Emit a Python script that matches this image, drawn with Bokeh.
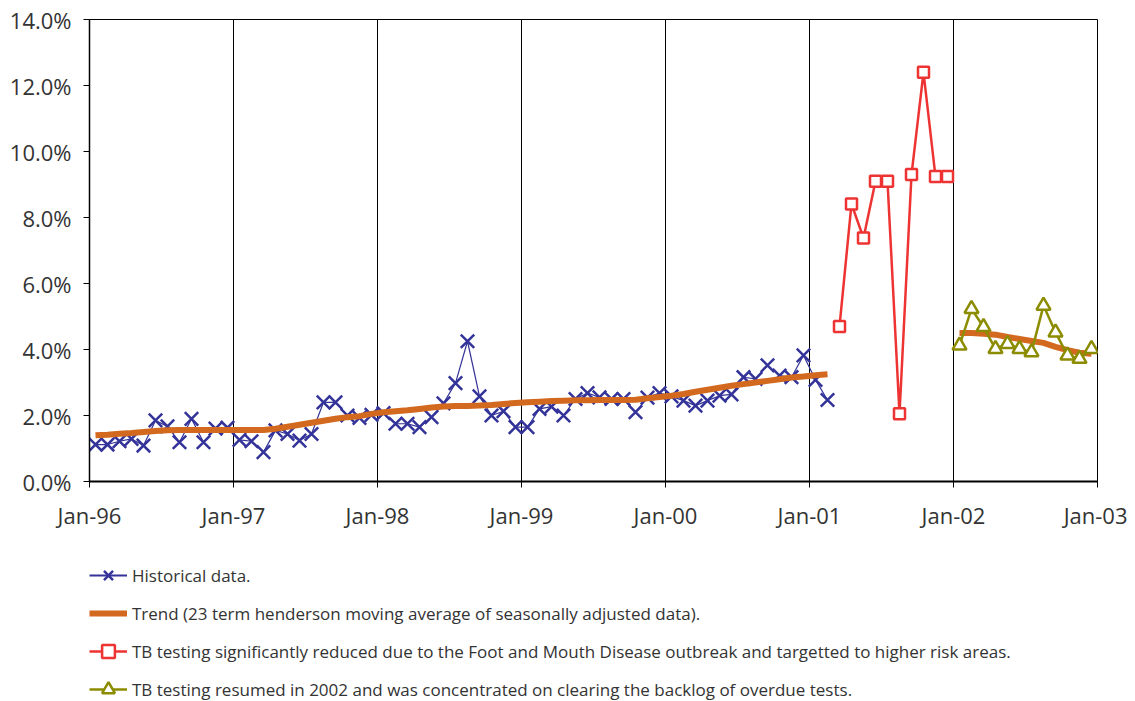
from bokeh.plotting import figure
from bokeh.layouts import column
from bokeh.models import (FixedTicker, PrintfTickFormatter, Legend, LegendItem, Range1d)
from bokeh.embed import file_html
from bokeh.resources import INLINE

# ---- data (month index from Jan-96 = 0; values in %) ----
year_ticks = [0, 12, 24, 36, 48, 60, 72, 84]
year_labels = ["Jan-96", "Jan-97", "Jan-98", "Jan-99", "Jan-00", "Jan-01", "Jan-02", "Jan-03"]

hist_month = list(range(0, 62))
hist_value = [1.12, 1.12, 1.22, 1.29, 1.09, 1.85, 1.67, 1.19, 1.90, 1.19, 1.60, 1.63,
              1.26, 1.22, 0.89, 1.55, 1.44, 1.24, 1.44, 2.40, 2.40, 2.00, 1.93, 2.02,
              2.07, 1.75, 1.75, 1.65, 1.95, 2.37, 2.98, 4.25, 2.58, 2.00, 2.13, 1.65,
              1.65, 2.20, 2.27, 2.00, 2.50, 2.68, 2.55, 2.50, 2.50, 2.10, 2.54, 2.68,
              2.58, 2.45, 2.30, 2.45, 2.60, 2.64, 3.16, 3.11, 3.52, 3.21, 3.16, 3.82,
              3.08, 2.47]

trend1_month = list(range(0, 62))
trend1_value = [1.40, 1.42, 1.45, 1.47, 1.50, 1.53, 1.55, 1.56, 1.56, 1.56, 1.56, 1.56,
                1.56, 1.56, 1.56, 1.60, 1.66, 1.72, 1.78, 1.84, 1.90, 1.95, 1.98, 2.05,
                2.10, 2.13, 2.16, 2.20, 2.24, 2.27, 2.29, 2.29, 2.30, 2.32, 2.35, 2.38,
                2.40, 2.42, 2.44, 2.45, 2.46, 2.46, 2.47, 2.47, 2.47, 2.48, 2.52, 2.56,
                2.60, 2.65, 2.72, 2.78, 2.84, 2.90, 2.95, 3.00, 3.05, 3.10, 3.15, 3.18,
                3.22, 3.25]

fmd_month = list(range(62, 72))
fmd_value = [4.70, 8.41, 7.38, 9.10, 9.10, 2.05, 9.30, 12.40, 9.24, 9.24]

resumed_month = list(range(72, 84))
resumed_value = [4.12, 5.23, 4.68, 4.02, 4.17, 4.02, 3.92, 5.33, 4.52, 3.82, 3.72, 4.02]

trend2_month = list(range(72, 84))
trend2_value = [4.50, 4.50, 4.48, 4.45, 4.38, 4.32, 4.26, 4.20, 4.08, 3.98, 3.90, 3.87]

labels = [
    "Historical data.",
    "Trend (23 term henderson moving average of seasonally adjusted data).",
    "TB testing significantly reduced due to the Foot and Mouth Disease outbreak and targetted to higher risk areas.",
    "TB testing resumed in 2002 and was concentrated on clearing the backlog of overdue tests.",
]

BLUE = "#333399"
ORANGE = "#D2691E"
RED = "#EE3333"
GREEN = "#8C8C00"
TEXT = "#333333"
FONT = "Open Sans"

# plot points sit mid-month
def mid(ms):
    return [m + 0.5 for m in ms]

p = figure(frame_width=1008, frame_height=462, output_backend="svg", toolbar_location=None,
           x_range=Range1d(0, 84), y_range=Range1d(0, 14),
           min_border_left=89, min_border_top=19, min_border_right=30, min_border_bottom=50)

p.outline_line_color = "black"
p.outline_line_width = 1

# axes
p.xaxis.ticker = FixedTicker(ticks=year_ticks)
p.xaxis.major_label_overrides = {t: l for t, l in zip(year_ticks, year_labels)}
p.yaxis.ticker = FixedTicker(ticks=[0, 2, 4, 6, 8, 10, 12, 14])
p.yaxis.formatter = PrintfTickFormatter(format="%.1f%%")
for ax in (p.xaxis, p.yaxis):
    ax.axis_line_color = "black"
    ax.major_tick_line_color = "black"
    ax.major_tick_in = 0
    ax.major_tick_out = 6
    ax.minor_tick_line_color = None
    ax.major_label_text_font = FONT
    ax.major_label_text_font_size = "22px"
    ax.major_label_text_color = TEXT
p.xaxis.axis_line_width = 2
p.yaxis.axis_line_width = 1.5
p.xaxis.major_label_standoff = 12
p.yaxis.major_label_standoff = 12

p.xgrid.ticker = FixedTicker(ticks=year_ticks)
p.xgrid.grid_line_color = "black"
p.xgrid.grid_line_width = 1
p.ygrid.grid_line_color = None

# series styles
H_LINE = dict(line_color=BLUE, line_width=1.2)
H_MARK = dict(marker="x", size=19, line_color=BLUE, line_width=2.5)
T_LINE = dict(line_color=ORANGE, line_width=6)
F_LINE = dict(line_color=RED, line_width=2.5)
F_MARK = dict(marker="square", size=11, line_color=RED, line_width=2.5, fill_color="white")
R_LINE = dict(line_color=GREEN, line_width=2.5)
R_MARK = dict(marker="triangle", size=14, line_color=GREEN, line_width=2.5, fill_color="white")

p.line(mid(hist_month), hist_value, **H_LINE)
p.scatter(mid(hist_month), hist_value, **H_MARK)
p.line(mid(trend1_month), trend1_value, **T_LINE)
p.line(mid(trend2_month), trend2_value, **T_LINE)
p.line(mid(fmd_month), fmd_value, **F_LINE)
p.scatter(mid(fmd_month), fmd_value, **F_MARK)
p.line(mid(resumed_month), resumed_value, **R_LINE)
p.scatter(mid(resumed_month), resumed_value, **R_MARK)

# legend panel below the chart (its renderers hold points outside the view)
lg = figure(width=1127, height=170, output_backend="svg", toolbar_location=None,
            x_range=Range1d(0, 1), y_range=Range1d(0, 1),
            x_axis_type=None, y_axis_type=None, min_border=0)
lg.outline_line_color = None
lg.xgrid.visible = False
lg.ygrid.visible = False
e = dict(x=[-10, -11], y=[-10, -11])
l1 = lg.line(**e, line_color=BLUE, line_width=2)
m1 = lg.scatter(**e, **H_MARK)
l2 = lg.line(**e, **T_LINE)
l3 = lg.line(**e, **F_LINE)
m3 = lg.scatter(**e, **F_MARK)
l4 = lg.line(**e, **R_LINE)
m4 = lg.scatter(**e, **R_MARK)

legend = Legend(items=[
    LegendItem(label=labels[0], renderers=[l1, m1]),
    LegendItem(label=labels[1], renderers=[l2]),
    LegendItem(label=labels[2], renderers=[l3, m3]),
    LegendItem(label=labels[3], renderers=[l4, m4]),
], location=(0, -3), orientation="vertical",
    glyph_width=38, glyph_height=32, label_height=32, label_standoff=5, spacing=6,
    padding=0, margin=0, border_line_alpha=0, background_fill_alpha=0,
    label_text_font=FONT, label_text_font_size="17px", label_text_color=TEXT)
lg.add_layout(legend, "center")

open("out.html", "w").write(file_html(column(p, lg, spacing=0), INLINE))
